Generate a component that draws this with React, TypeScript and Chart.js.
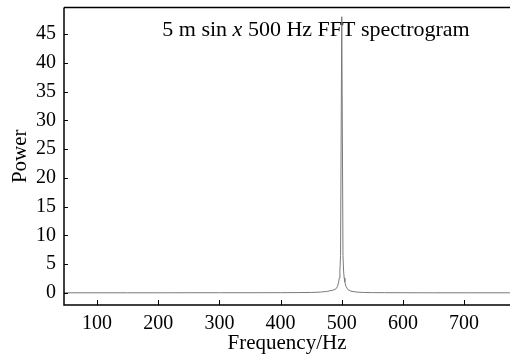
import React, { useEffect, useRef } from "react";
import { Chart, registerables } from "chart.js";

Chart.register(...registerables);

const frequencies = [46, 100, 150, 200, 250, 300, 350, 400, 430, 450, 465, 475, 485, 490, 493, 495, 496, 497, 498, 500, 502, 503, 504, 505, 507, 510, 515, 525, 535, 550, 570, 600, 650, 700, 775];
const powers = [0.02, 0.02, 0.02, 0.02, 0.03, 0.03, 0.03, 0.04, 0.06, 0.08, 0.14, 0.25, 0.45, 0.65, 1.1, 1.9, 2.6, 3.8, 6.5, 48, 6.5, 3.8, 2.6, 1.9, 1.1, 0.6, 0.3, 0.14, 0.08, 0.05, 0.04, 0.03, 0.02, 0.02, 0.02];
const yTicks = [0, 5, 10, 15, 20, 25, 30, 35, 40, 45];
const xTicks = [100, 200, 300, 400, 500, 600, 700];
const titleParts = [
  { text: "5 m sin ", italic: false },
  { text: "x", italic: true },
  { text: " 500 Hz FFT spectrogram", italic: false },
];
const xLabel = "Frequency/Hz";
const yLabel = "Power";

const FONT = "'Liberation Serif', 'Times New Roman', serif";

export default function App() {
  const ref = useRef<HTMLCanvasElement | null>(null);

  useEffect(() => {
    document.body.style.margin = "0";
    const canvas = ref.current;
    if (!canvas) return;

    const framePlugin = {
      id: "frame",
      afterDraw(chart: any) {
        const ctx = chart.ctx;
        const { left, right, top, bottom } = chart.chartArea;
        const xs = chart.scales.x;
        const ys = chart.scales.y;
        ctx.save();
        ctx.strokeStyle = "#000";
        ctx.lineWidth = 1.5;
        ctx.beginPath();
        ctx.moveTo(left, top);
        ctx.lineTo(right, top);
        ctx.moveTo(left, top);
        ctx.lineTo(left, bottom);
        ctx.lineTo(right, bottom);
        ctx.stroke();
        ctx.lineWidth = 1;
        ctx.beginPath();
        for (const v of yTicks) {
          const y = Math.round(ys.getPixelForValue(v)) + 0.5;
          ctx.moveTo(left, y);
          ctx.lineTo(left + 4, y);
        }
        for (const v of xTicks) {
          const x = Math.round(xs.getPixelForValue(v)) + 0.5;
          ctx.moveTo(x, bottom);
          ctx.lineTo(x, bottom - 5);
        }
        ctx.stroke();

        // title with italic x
        const size = 22;
        const widths = titleParts.map((p) => {
          ctx.font = `${p.italic ? "italic " : ""}${size}px ${FONT}`;
          return ctx.measureText(p.text).width;
        });
        const total = widths.reduce((a, b) => a + b, 0);
        let x = 316 - total / 2;
        ctx.fillStyle = "#000";
        ctx.textBaseline = "alphabetic";
        ctx.textAlign = "left";
        titleParts.forEach((p, i) => {
          ctx.font = `${p.italic ? "italic " : ""}${size}px ${FONT}`;
          ctx.fillText(p.text, x, 36);
          x += widths[i];
        });
        ctx.restore();
      },
    };

    const chart = new Chart(canvas, {
      type: "scatter",
      data: {
        datasets: [
          {
            data: frequencies.map((f, i) => ({ x: f, y: powers[i] })),
            showLine: true,
            borderColor: "#7a7a7a",
            borderWidth: 1,
            pointRadius: 0,
            tension: 0,
          },
        ],
      },
      options: {
        animation: false,
        responsive: false,
        maintainAspectRatio: false,
        layout: { padding: { top: 7.5, right: 0, left: 0, bottom: 0 } },
        plugins: { legend: { display: false }, tooltip: { enabled: false } },
        scales: {
          x: {
            type: "linear",
            min: 46,
            max: 775,
            grid: { display: false, drawTicks: false },
            border: { display: false },
            afterBuildTicks: (s: any) => {
              s.ticks = xTicks.map((v) => ({ value: v }));
            },
            afterFit: (s: any) => {
              s.height = 51;
              s.paddingLeft = 0;
              s.paddingRight = 0;
            },
            ticks: {
              color: "#000",
              font: { family: FONT, size: 20 },
              padding: 7,
              maxRotation: 0,
            },
            title: {
              display: true,
              text: xLabel,
              color: "#000",
              font: { family: FONT, size: 21 },
              padding: { top: 0, bottom: 0 },
            },
          },
          y: {
            type: "linear",
            min: -2.1,
            max: 49.6,
            grid: { display: false, drawTicks: false },
            border: { display: false },
            afterBuildTicks: (s: any) => {
              s.ticks = yTicks.map((v) => ({ value: v }));
            },
            afterFit: (s: any) => {
              s.width = 64;
              s.paddingTop = 0;
              s.paddingBottom = 0;
            },
            ticks: {
              color: "#000",
              font: { family: FONT, size: 20 },
              padding: 8,
            },
            title: {
              display: true,
              text: yLabel,
              color: "#000",
              font: { family: FONT, size: 21 },
              padding: { top: 8, bottom: 0 },
            },
          },
        },
      },
      plugins: [framePlugin],
    } as any);

    return () => chart.destroy();
  }, []);

  return (
    <div style={{ position: "absolute", left: 0, top: 0, width: 510, height: 356, background: "#fff" }}>
      <canvas ref={ref} width={510} height={356} style={{ width: 510, height: 356 }} />
    </div>
  );
}
